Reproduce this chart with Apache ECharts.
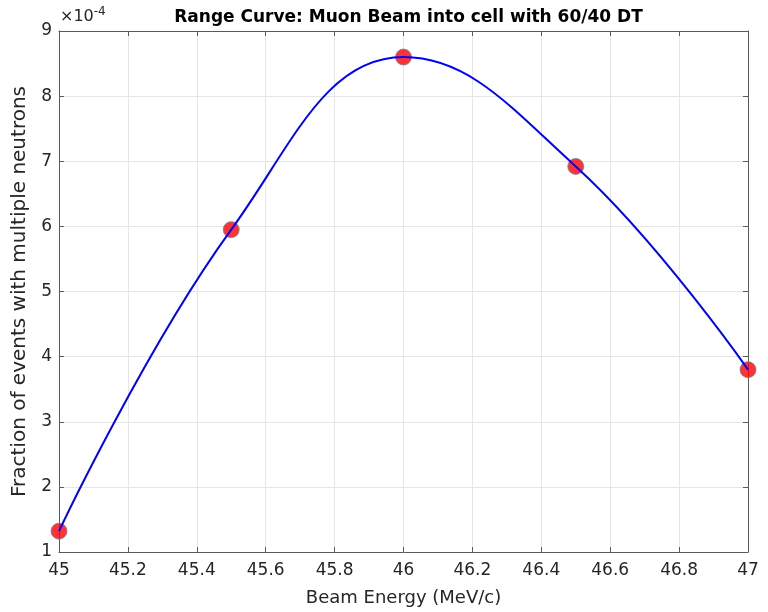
<!DOCTYPE html>
<html><head><meta charset="utf-8">
<script src="https://cdn.jsdelivr.net/npm/echarts@6/dist/echarts.min.js"></script>
<style>html,body{margin:0;padding:0;background:#fff}#c{width:768px;height:612px}</style>
</head><body><div id="c"></div>
<script>
// Beam energy (MeV/c)
const energies = [45, 45.5, 46, 46.5, 47];
// Fraction of events with multiple neutrons, in units of 1e-4
const fractions = [1.32, 5.95, 8.6, 6.92, 3.8];
const xTicks = [45, 45.2, 45.4, 45.6, 45.8, 46, 46.2, 46.4, 46.6, 46.8, 47];
const yTicks = [1, 2, 3, 4, 5, 6, 7, 8, 9];

const pts = energies.map((e, i) => [e, fractions[i]]);
const font = 'DejaVu Sans, sans-serif';
const txtCol = '#262626';
const axCol = '#5a5a5a';
const chart = echarts.init(document.getElementById('c'));
const gridL = 59, gridR = 20, gridT = 31, gridB = 60;
const commonX = {
  type: 'value', min: xTicks[0], max: xTicks[xTicks.length - 1], interval: 0.2,
  axisLine: {show: true, lineStyle: {color: axCol, width: 1}},
  axisTick: {show: true, inside: true, length: 5, lineStyle: {color: axCol}},
  splitLine: {show: false}
};
const commonY = {
  type: 'value', min: yTicks[0], max: yTicks[yTicks.length - 1], interval: 1,
  axisLine: {show: true, lineStyle: {color: axCol, width: 1}},
  axisTick: {show: true, inside: true, length: 5, lineStyle: {color: axCol}},
  splitLine: {show: false}
};
chart.setOption({
  animation: false,
  title: {
    text: 'Range Curve: Muon Beam into cell with 60/40 DT',
    left: gridL + (768 - gridL - gridR) / 2, textAlign: 'center', top: 4,
    textStyle: {fontFamily: font, fontWeight: 'bold', fontSize: 17, color: '#000'}
  },
  grid: {left: gridL, right: gridR, top: gridT, bottom: gridB},
  xAxis: [
    Object.assign({}, commonX, {
      position: 'bottom',
      splitLine: {show: true, lineStyle: {color: '#e6e6e6', width: 1}},
      axisLabel: {fontFamily: font, fontSize: 17, color: txtCol, margin: 10,
        formatter: v => String(+v.toFixed(1))},
      name: 'Beam Energy (MeV/c)', nameLocation: 'middle', nameGap: 37,
      nameTextStyle: {fontFamily: font, fontSize: 18, color: txtCol}
    }),
    Object.assign({}, commonX, {position: 'top', axisLabel: {show: false}})
  ],
  yAxis: [
    Object.assign({}, commonY, {
      position: 'left',
      splitLine: {show: true, lineStyle: {color: '#e6e6e6', width: 1}},
      axisLabel: {fontFamily: font, fontSize: 17, color: txtCol, margin: 7},
      name: 'Fraction of events with multiple neutrons', nameLocation: 'middle', nameGap: 19,
      nameTextStyle: {fontFamily: font, fontSize: 20, color: txtCol}
    }),
    Object.assign({}, commonY, {position: 'right', axisLabel: {show: false}})
  ],
  graphic: [{
    type: 'text', left: 60, top: 6,
    style: {
      text: '×10{sup|-4}', fontFamily: font, fontSize: 16, fill: txtCol,
      rich: {sup: {fontSize: 12, verticalAlign: 'top', padding: [0, 0, 9, 0], fill: txtCol, fontFamily: font}}
    }
  }],
  series: [
    {
      type: 'scatter', data: pts, symbol: 'circle', symbolSize: 16, z: 2,
      itemStyle: {color: '#ff0000', borderColor: '#6a86a8', borderWidth: 1}
    },
    {
      type: 'line', data: pts, smooth: 0.42, showSymbol: false, z: 3,
      lineStyle: {color: '#0000ff', width: 2}
    }
  ]
});
</script></body></html>
